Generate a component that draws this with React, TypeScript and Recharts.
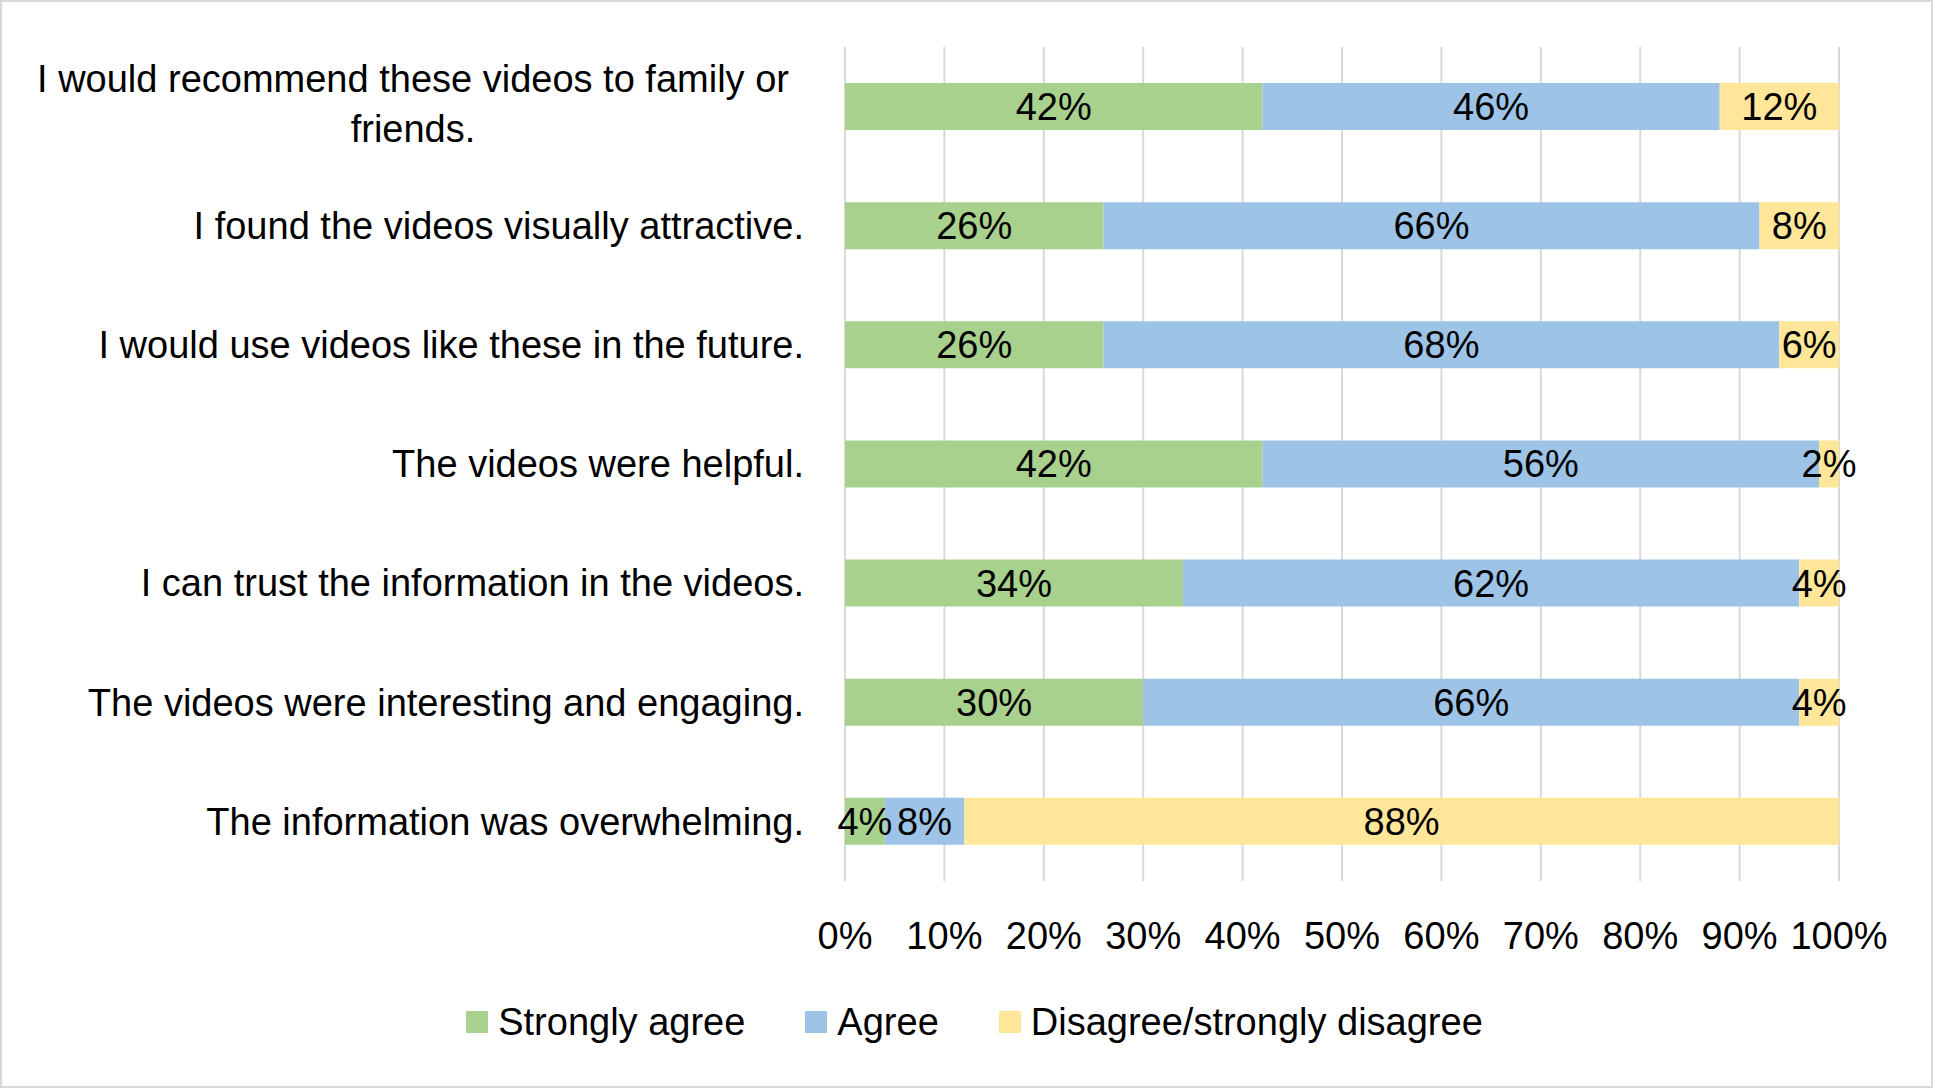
import React from 'react';
import { BarChart, Bar, XAxis, YAxis, CartesianGrid, Legend, LabelList } from 'recharts';

const FONT = "'Liberation Sans', sans-serif";
const FS = 38;

const statements = [
  'I would recommend these videos to family or\nfriends.',
  'I found the videos visually attractive.',
  'I would use videos like these in the future.',
  'The videos were helpful.',
  'I can trust the information in the videos.',
  'The videos were interesting and engaging.',
  'The information was overwhelming.',
];
const stronglyAgree = [42, 26, 26, 42, 34, 30, 4];
const agree = [46, 66, 68, 56, 62, 66, 8];
const disagree = [12, 8, 6, 2, 4, 4, 88];
const xTicks = [0, 10, 20, 30, 40, 50, 60, 70, 80, 90, 100];
const seriesNames = ['Strongly agree', 'Agree', 'Disagree/strongly disagree'];

const COLORS = {
  strong: '#a9d18e',
  agree: '#9dc3e6',
  disagree: '#ffe699',
  grid: '#d9d9d9',
};

const chartData = statements.map((s, i) => ({
  name: s,
  strong: stronglyAgree[i],
  agree: agree[i],
  disagree: disagree[i],
}));

const pct = (v: any) => `${v}%`;

// category labels: single lines right aligned, wrapped ones centred like Excel does
const CategoryTick = (props: any) => {
  const { x, y, payload } = props;
  const lines = String(payload.value).split('\n');
  if (lines.length === 1) {
    return (
      <text x={x} y={y} dy="0.35em" textAnchor="end" fontSize={FS} fill="#000">
        {payload.value}
      </text>
    );
  }
  const cx = x - 391;
  return (
    <text textAnchor="middle" fontSize={FS} fill="#000">
      {lines.map((l, i) => (
        <tspan key={i} x={cx} y={y - 28 + i * 50} dy="0.35em">{l}</tspan>
      ))}
    </text>
  );
};

const PercentTick = (props: any) => {
  const { x, y, payload } = props;
  return (
    <text x={x} y={y} dy="0.35em" textAnchor="middle" fontSize={FS} fill="#000">
      {pct(payload.value)}
    </text>
  );
};

const renderLegend = (props: any) => {
  // keep the series order, recharts sorts the payload by name
  const payload = [...(props.payload || [])].sort(
    (a: any, b: any) => seriesNames.indexOf(a.value) - seriesNames.indexOf(b.value)
  );
  return (
    <div style={{ display: 'flex', justifyContent: 'center', alignItems: 'center', height: 50, paddingLeft: 16 }}>
      {payload.map((entry: any, i: number) => (
        <div key={i} style={{ display: 'flex', alignItems: 'center', marginLeft: i === 0 ? 0 : 60 }}>
          <span style={{ width: 22, height: 22, background: entry.color, marginRight: 10, display: 'inline-block' }} />
          <span style={{ fontSize: FS, color: '#000', lineHeight: '50px' }}>{entry.value}</span>
        </div>
      ))}
    </div>
  );
};

export default function App() {
  return (
    <div
      style={{
        width: 1933,
        height: 1088,
        fontFamily: FONT,
        background: '#fff',
        boxShadow: 'inset 0 0 0 2px #d9d9d9',
      }}
    >
      <style>{'body{margin:0}'}</style>
      <BarChart
        width={1933}
        height={1088}
        data={chartData}
        layout="vertical"
        margin={{ top: 47, right: 94, bottom: 41, left: 0 }}
      >
        <CartesianGrid horizontal={false} stroke={COLORS.grid} strokeWidth={2} />
        <XAxis
          type="number"
          domain={[0, 100]}
          ticks={xTicks}
          axisLine={false}
          tickLine={false}
          tickSize={0}
          tickMargin={55}
          height={116}
          tick={<PercentTick />}
          interval={0}
        />
        <YAxis
          type="category"
          dataKey="name"
          width={845}
          axisLine={false}
          tickLine={false}
          tickSize={0}
          tickMargin={41}
          tick={<CategoryTick />}
          interval={0}
        />
        <Legend
          verticalAlign="bottom"
          content={renderLegend}
          wrapperStyle={{ left: 0, width: 1933 }}
        />
        <Bar dataKey="strong" name={seriesNames[0]} stackId="a" fill={COLORS.strong} barSize={47} isAnimationActive={false}>
          <LabelList dataKey="strong" position="center" formatter={pct} fill="#000" fontSize={FS} />
        </Bar>
        <Bar dataKey="agree" name={seriesNames[1]} stackId="a" fill={COLORS.agree} barSize={47} isAnimationActive={false}>
          <LabelList dataKey="agree" position="center" formatter={pct} fill="#000" fontSize={FS} />
        </Bar>
        <Bar dataKey="disagree" name={seriesNames[2]} stackId="a" fill={COLORS.disagree} barSize={47} isAnimationActive={false}>
          <LabelList dataKey="disagree" position="center" formatter={pct} fill="#000" fontSize={FS} />
        </Bar>
      </BarChart>
    </div>
  );
}
